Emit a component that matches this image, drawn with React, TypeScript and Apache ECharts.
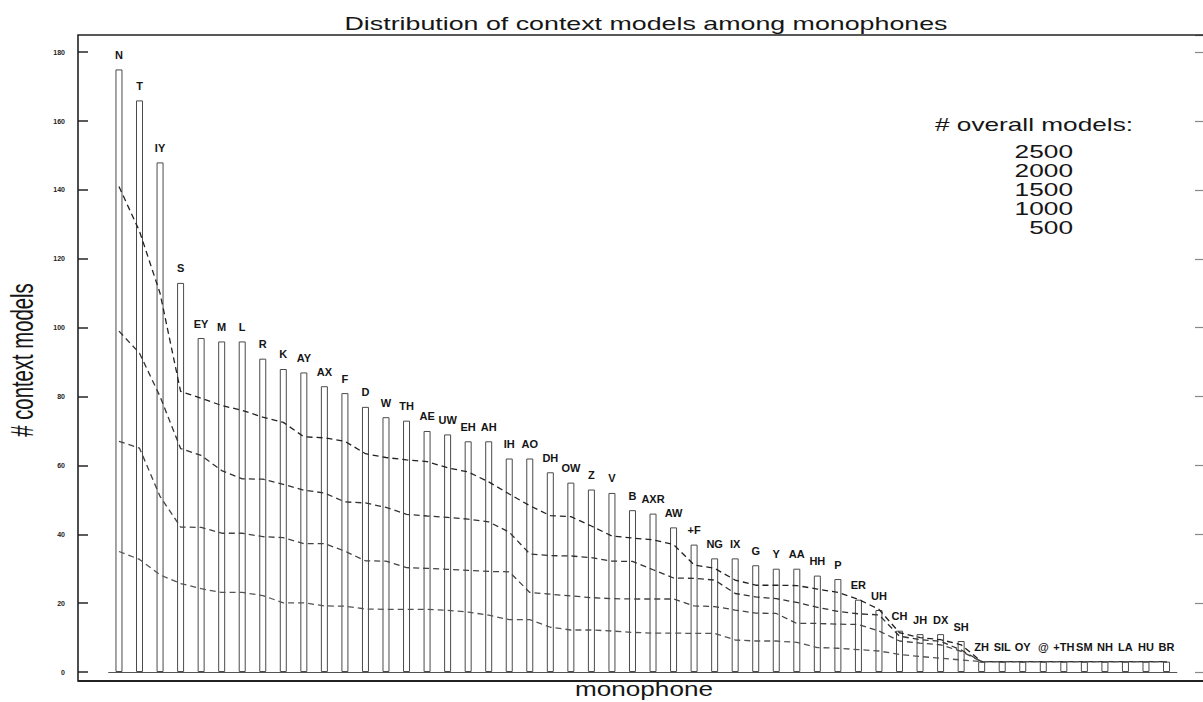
import React, { useEffect, useRef } from "react";
import * as echarts from "echarts";

// Monophones, ordered by number of context models
const phones = [
  "N", "T", "IY", "S", "EY", "M", "L", "R", "K", "AY", "AX", "F", "D", "W", "TH", "AE", "UW", "EH", "AH", "IH",
  "AO", "DH", "OW", "Z", "V", "B", "AXR", "AW", "+F", "NG", "IX", "G", "Y", "AA", "HH", "P", "ER", "UH", "CH", "JH",
  "DX", "SH", "ZH", "SIL", "OY", "@", "+TH", "SM", "NH", "LA", "HU", "BR",
];

// Context models per monophone for 2500 overall models (bars)
const models2500 = [
  175, 166, 148, 113, 97, 96, 96, 91, 88, 87, 83, 81, 77, 74, 73, 70, 69, 67, 67, 62,
  62, 58, 55, 53, 52, 47, 46, 42, 37, 33, 33, 31, 30, 30, 28, 27, 21, 18, 12, 11,
  11, 9, 3, 3, 3, 3, 3, 3, 3, 3, 3, 3,
];

// Dashed curves for smaller overall model counts
const models2000 = [
  141, 128, 110, 81.5, 79.5, 77.4, 76, 74, 72.5, 68.3, 68, 67, 63.4, 62.3, 61.6, 61.1, 59.3, 58.1, 55.2, 51.7,
  48.3, 45.4, 45.1, 42.4, 39.5, 38.9, 38.4, 37, 31.1, 30.1, 26.7, 25.2, 25.2, 25.1, 24.1, 23.1, 21.1, 18.2, 11.4, 10,
  9.4, 7.9, 3, 3, 3, 3, 3, 3, 3, 3, 3, 3,
];
const models1500 = [
  99, 92.6, 80, 64.9, 62.9, 58.5, 56.1, 56, 54.5, 52.8, 52, 49.4, 49.1, 47.8, 45.8, 45.3, 44.9, 44.4, 43.6, 40.6,
  34.3, 33.8, 33.7, 33.2, 32.2, 32.1, 29.7, 27.3, 27.2, 26.7, 22.8, 21.8, 21.3, 20.2, 18.8, 17.6, 16.9, 16.6, 10.4, 9.4,
  8.9, 6.4, 3, 3, 3, 3, 3, 3, 3, 3, 3, 3,
];
const models1000 = [
  67, 65, 51, 42.1, 42, 40.3, 40.3, 39.3, 39, 37.3, 37.3, 35.1, 32.3, 32.2, 30.3, 30.1, 29.8, 29.5, 29.2, 29.1,
  23.1, 22.6, 22.1, 21.6, 21.3, 21.2, 21.2, 21.2, 19.2, 19, 18, 17.1, 17, 14.1, 14.1, 13.9, 13.8, 11.9, 9, 8.4,
  7.9, 6, 3, 3, 3, 3, 3, 3, 3, 3, 3, 3,
];
const models500 = [
  35, 32.7, 28.2, 25.7, 24.2, 23.1, 23.1, 22.2, 20.1, 20.1, 19.2, 19.1, 18.3, 18.2, 18.2, 18.2, 17.9, 17.4, 16.5, 15.2,
  15.2, 13, 12.2, 12.2, 11.9, 11.5, 11.3, 11.3, 11.2, 11.2, 9.3, 9, 9, 8.6, 7.1, 6.9, 6.5, 6.1, 5.1, 4.5,
  4, 3.5, 3, 3, 3, 3, 3, 3, 3, 3, 3, 3,
];

const overallCounts = [2500, 2000, 1500, 1000, 500];
const curveColors = ["#222", "#333", "#444", "#555"];

const FONT = "'Liberation Sans', Arial, Helvetica, sans-serif";

// Frame and plotting geometry (px)
const FRAME_LEFT = 78;
const FRAME_TOP = 35;
const FRAME_BOTTOM = 681;
const GRID_LEFT = 108.7;
const GRID_RIGHT_EDGE = 1176.8;

function scaledText(
  text: string,
  x: number,
  y: number,
  size: number,
  align: string,
  extra: Record<string, number> = {}
) {
  return {
    type: "text",
    x,
    y,
    ...extra,
    silent: true,
    style: {
      text,
      fontSize: size,
      fontFamily: FONT,
      fill: "#161616",
      align,
      verticalAlign: "middle",
      textAlign: align,
      textVerticalAlign: "middle",
    },
  };
}

export default function App() {
  const ref = useRef<HTMLDivElement>(null);

  useEffect(() => {
    if (!ref.current) return;
    const chart = echarts.init(ref.current, undefined, { renderer: "svg" });

    const curves = [models2000, models1500, models1000, models500];

    const option: any = {
      animation: false,
      backgroundColor: "#fff",
      grid: {
        left: GRID_LEFT,
        right: 1203 - GRID_RIGHT_EDGE,
        top: FRAME_TOP,
        bottom: 702 - 672,
        containLabel: false,
      },
      xAxis: {
        type: "category",
        data: phones,
        boundaryGap: true,
        axisLine: { show: true, lineStyle: { color: "#555", width: 1.2 } },
        axisTick: { show: false },
        axisLabel: { show: false },
        splitLine: { show: false },
      },
      yAxis: [
        {
          type: "value",
          min: 0,
          max: 185,
          interval: 20,
          position: "left",
          offset: GRID_LEFT - FRAME_LEFT,
          axisLine: { show: false },
          axisTick: { show: true, inside: true, length: 10, lineStyle: { color: "#333", width: 1.6 } },
          axisLabel: {
            show: true,
            margin: 13,
            fontSize: 7,
            fontWeight: "bold",
            fontFamily: FONT,
            color: "#222",
            showMaxLabel: false,
            formatter: (v: number) => (v % 20 === 0 ? String(v) : ""),
          },
          splitLine: { show: false },
        },
        {
          type: "value",
          min: 0,
          max: 185,
          interval: 20,
          position: "right",
          offset: 1204 - GRID_RIGHT_EDGE,
          axisLine: { show: false },
          axisTick: { show: true, inside: true, length: 9, lineStyle: { color: "#888", width: 1.2 } },
          axisLabel: { show: false },
          splitLine: { show: false },
        },
      ],
      series: [
        {
          name: String(overallCounts[0]),
          type: "bar",
          data: models2500,
          barWidth: 7,
          itemStyle: { color: "#fff", borderColor: "#4a4a4a", borderWidth: 1 },
          label: {
            show: true,
            position: "top",
            distance: 9,
            formatter: "{b}",
            fontSize: 11,
            fontWeight: "bold",
            fontFamily: FONT,
            color: "#151515",
          },
          z: 2,
        },
        ...curves.map((vals, k) => ({
          name: String(overallCounts[k + 1]),
          type: "line",
          data: vals,
          symbol: "none",
          z: 3,
          lineStyle: { color: curveColors[k], width: 1.3, type: [6, 4] },
        })),
      ],
      graphic: [
        {
          type: "rect",
          silent: true,
          shape: { x: FRAME_LEFT, y: FRAME_TOP, width: 1150, height: FRAME_BOTTOM - FRAME_TOP },
          style: { fill: "none", stroke: "#222", lineWidth: 1.6 },
          z: 10,
        },
        {
          type: "line",
          silent: true,
          shape: { x1: FRAME_LEFT, y1: FRAME_BOTTOM, x2: 1210, y2: FRAME_BOTTOM },
          style: { stroke: "#222", lineWidth: 2.2 },
          z: 10,
        },
        scaledText("Distribution of context models among monophones", 646, 23, 19, "center", { scaleX: 1.41 }),
        scaledText("monophone", 644, 689, 19.5, "center", { scaleX: 1.34 }),
        scaledText("# context models", 22.4, 360, 20.3, "center", { rotation: Math.PI / 2, scaleY: 1.55 }),
        scaledText("# overall models:", 935, 124, 19, "left", { scaleX: 1.38 }),
        ...overallCounts.map((c, k) =>
          scaledText(String(c), 1073, 152.5 + 19 * k, 17.5, "right", { scaleX: 1.5 })
        ),
      ],
    };

    chart.setOption(option);
    return () => chart.dispose();
  }, []);

  return (
    <div
      ref={ref}
      style={{ position: "fixed", left: 0, top: 0, width: 1203, height: 702, background: "#fff" }}
    />
  );
}
